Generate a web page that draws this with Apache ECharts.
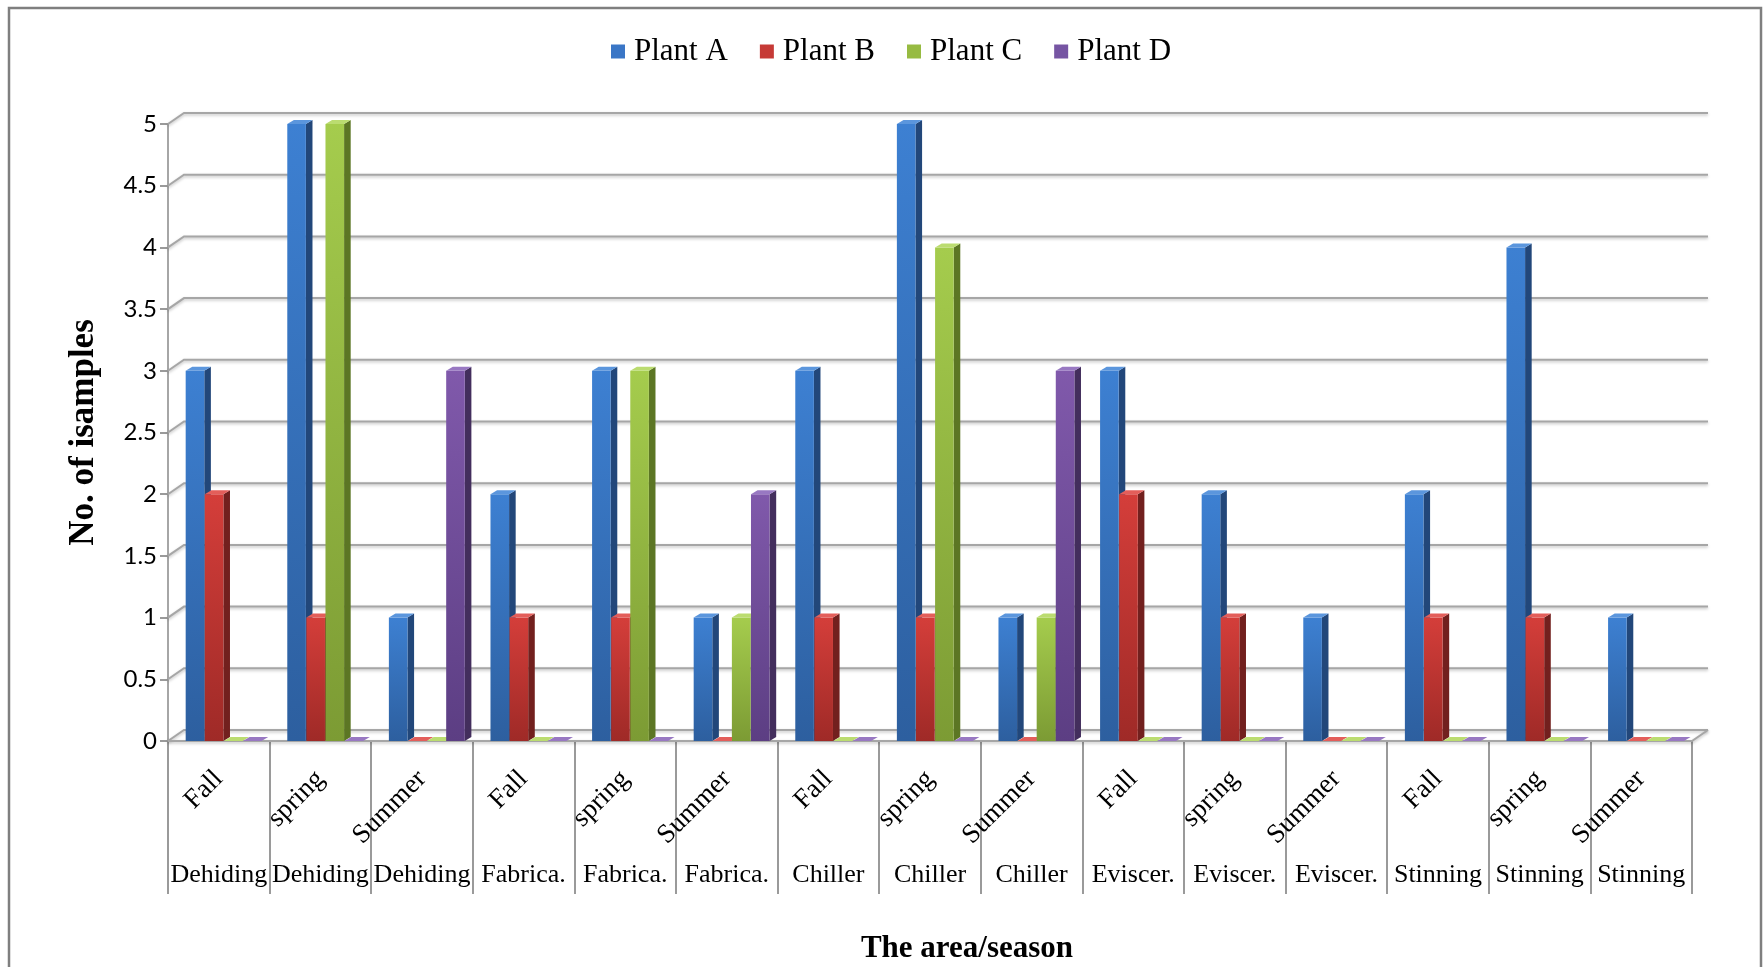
<!DOCTYPE html>
<html>
<head>
<meta charset="utf-8">
<title>Samples by area and season</title>
<script src="https://cdn.jsdelivr.net/npm/echarts@6/dist/echarts.min.js"></script>
<style>
  html, body { margin: 0; padding: 0; background: #ffffff; }
  #chart { width: 1763px; height: 967px; }
</style>
</head>
<body>
<div id="chart"></div>
<script>
// Categories: season (upper label row) and area (lower label row)
const seasons = ['Fall', 'spring', 'Summer', 'Fall', 'spring', 'Summer', 'Fall', 'spring', 'Summer',
                 'Fall', 'spring', 'Summer', 'Fall', 'spring', 'Summer'];
const areas = ['Dehiding', 'Dehiding', 'Dehiding', 'Fabrica.', 'Fabrica.', 'Fabrica.',
               'Chiller', 'Chiller', 'Chiller', 'Eviscer.', 'Eviscer.', 'Eviscer.',
               'Stinning', 'Stinning', 'Stinning'];

// Number of samples per plant
const plantNames = ['Plant A', 'Plant B', 'Plant C', 'Plant D'];
const plantA = [3, 5, 1, 2, 3, 1, 3, 5, 1, 3, 2, 1, 2, 4, 1];
const plantB = [2, 1, 0, 1, 1, 0, 1, 1, 0, 2, 1, 0, 1, 1, 0];
const plantC = [0, 5, 0, 0, 3, 1, 0, 4, 1, 0, 0, 0, 0, 0, 0];
const plantD = [0, 0, 3, 0, 0, 2, 0, 0, 3, 0, 0, 0, 0, 0, 0];

// Value axis ticks
const yTicks = [0, 0.5, 1, 1.5, 2, 2.5, 3, 3.5, 4, 4.5, 5];

const plantValues = [plantA, plantB, plantC, plantD];

// Shading for the three visible faces of each box-shaped bar
const palettes = [
  { legend: '#3a76c6', frontTop: '#3d80d2', frontBottom: '#2d5f9f', side: '#22477a', top: '#5b96dd' },
  { legend: '#c63a36', frontTop: '#d43e3a', frontBottom: '#9f2a27', side: '#72201e', top: '#e35e5a' },
  { legend: '#97bb42', frontTop: '#a5cc4d', frontBottom: '#7c9b34', side: '#5c7624', top: '#bbdc70' },
  { legend: '#7655a3', frontTop: '#8059ab', frontBottom: '#5c3e83', side: '#432e5d', top: '#9878c2' }
];

// Depth offset of the back wall relative to the front plane
const DEPTH_X = 16;
const DEPTH_Y = 11;

function renderBox(params, api) {
  const s = params.seriesIndex;
  const pal = palettes[s];
  const i = api.value(0);
  const v = api.value(1);
  const base = api.coord([i, 0]);
  const topPt = api.coord([i, v]);
  const band = api.size([1, 0])[0];
  const pitch = band * 0.188;
  const w = pitch - 0.5;
  const dx = band * 0.065;
  const dy = 4;
  const x = base[0] - 2 * pitch + band * 0.05 + s * pitch;
  const yb = base[1];
  const yt = topPt[1];
  const children = [];
  if (yb - yt > 0.5) {
    children.push({
      type: 'polygon',
      shape: { points: [[x + w, yt], [x + w + dx, yt - dy], [x + w + dx, yb - dy], [x + w, yb]] },
      style: { fill: pal.side }
    });
    children.push({
      type: 'rect',
      shape: { x: x, y: yt, width: w, height: yb - yt },
      style: {
        fill: new echarts.graphic.LinearGradient(0, 0, 0, 1, [
          { offset: 0, color: pal.frontTop },
          { offset: 1, color: pal.frontBottom }
        ])
      }
    });
  }
  children.push({
    type: 'polygon',
    shape: { points: [[x, yt], [x + dx, yt - dy], [x + w + dx, yt - dy], [x + w, yt]] },
    style: { fill: pal.top }
  });
  return { type: 'group', children: children };
}

// Back wall gridlines, their diagonal joints to the value axis, and the floor
function renderWalls(params, api) {
  const cs = params.coordSys;
  const v = api.value(1);
  const y = api.coord([0, v])[1];
  const x0 = cs.x;
  const x1 = cs.x + cs.width;
  const lineStyle = {
    stroke: '#a6a6a6', lineWidth: 2, fill: null,
    shadowBlur: 3, shadowColor: 'rgba(0,0,0,0.25)', shadowOffsetY: 1.5
  };
  const children = [{
    type: 'polyline',
    shape: { points: [[x0, y], [x0 + DEPTH_X, y - DEPTH_Y], [x1 + DEPTH_X, y - DEPTH_Y]] },
    style: lineStyle
  }];
  if (v === 0) {
    children.push({
      type: 'polyline',
      shape: { points: [[x0, y], [x1, y], [x1 + DEPTH_X, y - DEPTH_Y]] },
      style: lineStyle
    });
  }
  return { type: 'group', children: children };
}

const chart = echarts.init(document.getElementById('chart'), null, { renderer: 'canvas' });

const barSeries = plantNames.map(function (name, s) {
  return {
    name: name,
    type: 'custom',
    xAxisIndex: 0,
    yAxisIndex: 0,
    z: 3,
    itemStyle: { color: palettes[s].legend },
    renderItem: renderBox,
    encode: { x: 0, y: 1 },
    data: plantValues[s].map(function (val, i) { return [i, val]; })
  };
});

const option = {
  backgroundColor: '#ffffff',
  animation: false,
  legend: {
    data: plantNames,
    left: 606,
    top: 31,
    itemWidth: 14,
    itemHeight: 14,
    itemGap: 32,
    icon: 'rect',
    textStyle: {
      fontFamily: 'Liberation Serif',
      fontSize: 31,
      color: '#000000',
      padding: [0, 0, 0, 4]
    }
  },
  grid: {
    left: 168,
    right: 71,
    top: 124,
    bottom: 226,
    containLabel: false
  },
  xAxis: [
    {
      type: 'category',
      data: seasons,
      boundaryGap: true,
      axisLine: { show: false },
      axisTick: {
        show: true,
        interval: 0,
        length: 153,
        lineStyle: { color: '#9a9a9a', width: 2 }
      },
      axisLabel: {
        interval: 0,
        rotate: 45,
        margin: 34,
        fontFamily: 'Liberation Serif',
        fontSize: 27,
        color: '#000000'
      },
      splitLine: { show: false }
    },
    {
      type: 'category',
      data: areas,
      position: 'bottom',
      boundaryGap: true,
      axisLine: { show: false },
      axisTick: { show: false },
      axisLabel: {
        interval: 0,
        margin: 121,
        fontFamily: 'Liberation Serif',
        fontSize: 26,
        color: '#000000'
      },
      splitLine: { show: false }
    }
  ],
  yAxis: {
    type: 'value',
    min: 0,
    max: 5,
    interval: 0.5,
    name: 'No. of isamples',
    nameLocation: 'middle',
    nameGap: 67,
    nameRotate: 90,
    nameTextStyle: {
      fontFamily: 'Liberation Serif',
      fontWeight: 'bold',
      fontSize: 35,
      color: '#000000'
    },
    axisLine: { show: true, lineStyle: { color: '#a6a6a6', width: 2 } },
    axisTick: { show: true, length: 8, lineStyle: { color: '#9a9a9a', width: 2 } },
    axisLabel: {
      margin: 11,
      fontFamily: 'Lato',
      fontSize: 24,
      color: '#000000'
    },
    splitLine: { show: false }
  },
  graphic: [
    {
      type: 'rect',
      silent: true,
      shape: { x: 9, y: 8, width: 1752, height: 1000 },
      style: { fill: null, stroke: '#7f7f7f', lineWidth: 2.5 }
    },
    {
      type: 'text',
      silent: true,
      x: 967,
      y: 949,
      style: {
        text: 'The area/season',
        fontFamily: 'Liberation Serif',
        fontWeight: 'bold',
        fontSize: 31,
        fill: '#000000',
        align: 'center',
        verticalAlign: 'middle'
      }
    }
  ],
  series: barSeries.concat([{
    name: 'walls',
    type: 'custom',
    silent: true,
    z: 1,
    xAxisIndex: 0,
    yAxisIndex: 0,
    renderItem: renderWalls,
    encode: { x: 0, y: 1 },
    data: yTicks.map(function (t) { return [0, t]; })
  }])
};

chart.setOption(option);
</script>
</body>
</html>
